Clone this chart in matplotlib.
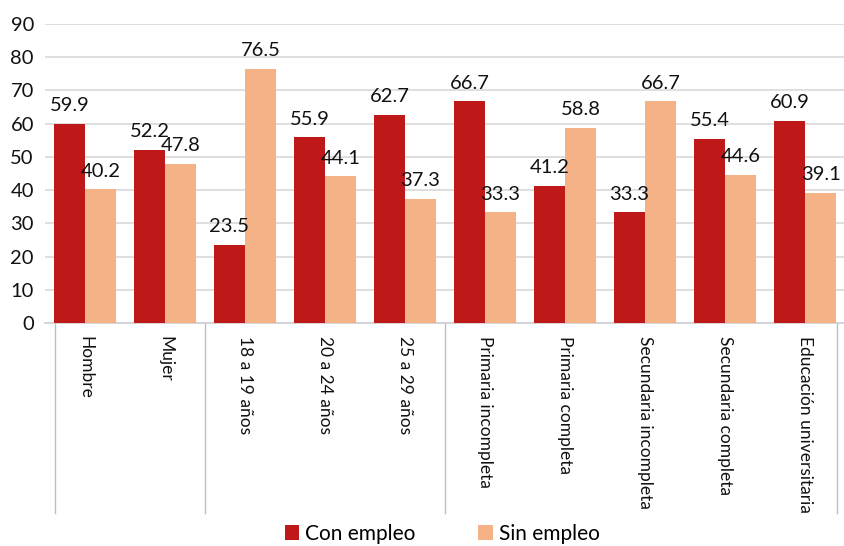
import matplotlib
matplotlib.use("Agg")
import matplotlib.pyplot as plt
import numpy as np
from matplotlib.transforms import blended_transform_factory

categories = ["Hombre", "Mujer", "18 a 19 años", "20 a 24 años", "25 a 29 años",
              "Primaria incompleta", "Primaria completa", "Secundaria incompleta",
              "Secundaria completa", "Educación universitaria"]
con_empleo = [59.9, 52.2, 23.5, 55.9, 62.7, 66.7, 41.2, 33.3, 55.4, 60.9]
sin_empleo = [40.2, 47.8, 76.5, 44.1, 37.3, 33.3, 58.8, 66.7, 44.6, 39.1]
yticks = [0, 10, 20, 30, 40, 50, 60, 70, 80, 90]
group_bounds = [-0.375, 1.5, 4.5, 9.4]

plt.rcParams['font.family'] = ['Lato', 'DejaVu Sans']

red = "#BE1818"
orange = "#F5B286"

fig = plt.figure(figsize=(8.44, 5.46), dpi=100)
ax = fig.add_axes([45/844, 1-323/546, 800/844, 299/546])

x = np.arange(len(categories))
w = 0.3875
b1 = ax.bar(x - w/2, con_empleo, w, color=red, label="Con empleo", zorder=3)
b2 = ax.bar(x + w/2, sin_empleo, w, color=orange, label="Sin empleo", zorder=3)

for rects, vals in ((b1, con_empleo), (b2, sin_empleo)):
    for r, v in zip(rects, vals):
        ax.annotate(f"{v:.1f}", (r.get_x() + r.get_width()/2, v),
                    xytext=(0, 7), textcoords="offset points",
                    ha="center", va="bottom", fontsize=14.5, color="#111111", zorder=4)

ax.set_xlim(-0.5, 9.5)
ax.set_ylim(0, 90)
ax.set_yticks(yticks)
ax.yaxis.grid(True, color="#D9D9D9", linewidth=1.2, zorder=0)
ax.set_axisbelow(True)
for s in ["top", "right", "left"]:
    ax.spines[s].set_visible(False)
ax.spines["bottom"].set_color("#D0D0D0")
ax.spines["bottom"].set_linewidth(1.2)
ax.tick_params(axis="y", length=0, labelsize=14.5, pad=8, labelcolor="#111111")
ax.tick_params(axis="x", length=0)
ax.set_xticks(x)
ax.set_xticklabels([])

trans = blended_transform_factory(ax.transData, ax.transAxes)
for xi, lab in zip(x, categories):
    ax.text(xi, -0.042, lab, rotation=270, ha="center", va="top",
            fontsize=12.5, transform=trans, color="#111111")

for gb in group_bounds:
    ax.plot([gb, gb], [0, -0.635], transform=trans, color="#BFBFBF",
            linewidth=1.0, clip_on=False)

leg = fig.legend(handles=[b1, b2], loc="lower center", bbox_to_anchor=(0.524, -0.03),
                 ncol=2, frameon=False, fontsize=15, handlelength=0.7,
                 handleheight=0.7, handletextpad=0.3, columnspacing=3.0)

fig.savefig("out.png", dpi=100)
